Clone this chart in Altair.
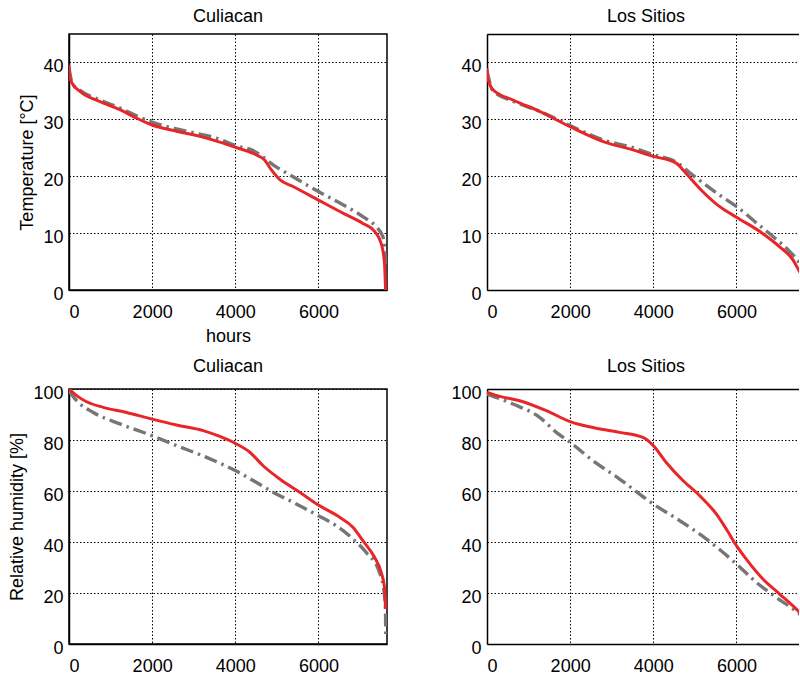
import altair as alt
import pandas as pd

FONT = "Liberation Sans"
RED = "#e8262a"
GRAY = "#767676"

# ---------------- data ----------------
hours_ticks = [0, 2000, 4000, 6000]
temp_ticks = [0, 10, 20, 30, 40]
rh_ticks = [0, 20, 40, 60, 80, 100]

# Culiacan temperature
cul_t_red_h = [0, 20, 80, 265, 745, 1225, 1626, 2000, 2587, 3148, 3628, 4000, 4430, 4710, 4870, 5070, 5390, 6000, 6590, 7070, 7350, 7510, 7590, 7615]
cul_t_red_v = [39.6, 37.5, 36.3, 34.9, 33.1, 31.7, 30.2, 29.0, 27.9, 27.0, 26.0, 25.1, 24.0, 22.8, 21.1, 19.4, 18.2, 15.8, 13.5, 11.7, 10.3, 8.2, 4.7, 0.0]
cul_t_gray_h = [0, 80, 265, 745, 1225, 1626, 2000, 2587, 3148, 3628, 4000, 4430, 4590, 4910, 5390, 6000, 6590, 7070, 7390, 7550, 7600, 7615]
cul_t_gray_v = [39.0, 36.3, 35.1, 33.4, 32.0, 30.6, 29.5, 28.3, 27.4, 26.5, 25.4, 24.5, 23.8, 22.0, 19.9, 17.3, 15.0, 12.9, 11.1, 9.4, 6.5, 4.0]

# Los Sitios temperature
los_t_red_h = [0, 10, 24, 144, 625, 1266, 2000, 2867, 3430, 4000, 4550, 4790, 5110, 5590, 6000, 6640, 7040, 7360, 7520, 7650]
los_t_red_v = [39.0, 37.8, 37.2, 35.2, 33.4, 31.4, 28.7, 25.9, 24.8, 23.5, 22.3, 20.5, 17.9, 14.7, 12.8, 9.9, 7.6, 5.3, 3.2, 1.5]
los_t_gray_h = [0, 144, 625, 1266, 2000, 2867, 3430, 4000, 4550, 4950, 5590, 6000, 6480, 6880, 7290, 7520, 7650]
los_t_gray_v = [38.5, 35.0, 33.2, 31.4, 28.9, 26.2, 25.2, 23.8, 22.5, 20.2, 16.7, 14.7, 11.8, 9.4, 6.7, 4.7, 3.0]

# Culiacan relative humidity
cul_rh_red_h = [0, 184, 424, 825, 1385, 2000, 2587, 3228, 3628, 4000, 4350, 4670, 5070, 5550, 6000, 6510, 6830, 7070, 7350, 7510, 7590, 7615]
cul_rh_red_v = [100.0, 97.4, 95.0, 92.8, 90.8, 88.2, 85.9, 83.7, 81.4, 78.7, 75.2, 69.9, 64.7, 59.5, 54.5, 49.7, 45.8, 40.5, 34.0, 28.1, 22.2, 13.7]
cul_rh_gray_h = [0, 184, 585, 1225, 2000, 2587, 3308, 4000, 4430, 4910, 5390, 6000, 6430, 6830, 7150, 7470, 7590, 7615, 7620]
cul_rh_gray_v = [99.3, 95.4, 90.8, 86.3, 81.7, 77.8, 73.2, 68.0, 64.1, 59.5, 55.6, 50.3, 46.4, 41.2, 35.9, 28.1, 19.0, 12.4, 2.6]

# Los Sitios relative humidity
los_rh_red_h = [0, 305, 786, 1427, 2000, 2629, 3190, 3751, 4000, 4313, 4713, 5114, 5515, 5756, 6000, 6237, 6637, 7038, 7439, 7519, 7650]
los_rh_red_v = [98.7, 97.1, 95.4, 91.5, 87.2, 84.6, 83.0, 81.0, 77.8, 71.2, 64.1, 58.2, 51.0, 45.1, 38.6, 33.3, 25.5, 19.6, 13.7, 12.4, 10.5]
los_rh_gray_h = [0, 625, 1266, 1667, 2000, 2549, 3190, 4000, 4633, 5274, 6000, 6477, 6958, 7519, 7650]
los_rh_gray_v = [98.0, 94.1, 88.9, 83.0, 79.1, 71.9, 64.7, 54.9, 48.4, 41.2, 31.4, 24.2, 18.3, 11.8, 10.0]

XMAX = 7650          # full hour range of each panel
PANEL_W = 318
CROP_W = 312         # right-hand panels are cut by the picture edge
XMAX_CROP = XMAX * CROP_W / PANEL_W


def panel(title, hr, vr, hg, vg, ymax, yticks, height, ytitle=None, xtitle=None, cropped=False):
    df_r = pd.DataFrame({"h": hr, "v": vr, "i": list(range(len(hr)))})
    df_g = pd.DataFrame({"h": hg, "v": vg, "i": list(range(len(hg)))})
    xaxis_kw = dict(values=hours_ticks, labelPadding=13, format="d")
    if xtitle:
        xaxis_kw["title"] = xtitle
        xaxis_kw["titlePadding"] = 6
    else:
        xaxis_kw["title"] = ""
    yaxis_kw = dict(values=yticks, labelOffset=4, format="d")
    if ytitle:
        yaxis_kw["title"] = ytitle
        yaxis_kw["titlePadding"] = 6
    else:
        yaxis_kw["title"] = ""
    xmax = XMAX_CROP if cropped else XMAX
    x = alt.X("h:Q", scale=alt.Scale(domain=[0, xmax], nice=False, zero=False),
              axis=alt.Axis(**xaxis_kw))
    y = alt.Y("v:Q", scale=alt.Scale(domain=[0, ymax], nice=False),
              axis=alt.Axis(**yaxis_kw))
    gray = alt.Chart(df_g).mark_line(color=GRAY, strokeWidth=3.4, strokeDash=[13, 5, 2.5, 5],
                                     interpolate="monotone", clip=True).encode(x=x, y=y, order="i:Q")
    if cropped:
        xr = alt.X("h:Q", axis=alt.Axis(orient="top", labels=False, grid=False, ticks=False,
                                        title="", domain=True))
    else:
        xr = alt.X("h:Q")
    red = alt.Chart(df_r).mark_line(color=RED, strokeWidth=3, interpolate="monotone",
                                    clip=True).encode(x=xr, y=alt.Y("v:Q"), order="i:Q")
    props = dict(width=CROP_W if cropped else PANEL_W, height=height,
                 title=alt.TitleParams(title, anchor="middle", offset=8))
    layer = alt.layer(gray, red)
    if cropped:
        layer = layer.resolve_axis(x="independent")
        props["view"] = alt.ViewBackground(strokeOpacity=0)
        # keep title centred over the full (uncut) panel
        props["title"] = alt.TitleParams(title, anchor="middle", offset=8,
                                         dx=(PANEL_W - CROP_W) / 2)
    return layer.properties(**props)


tl = panel("Culiacan", cul_t_red_h, cul_t_red_v, cul_t_gray_h, cul_t_gray_v, 45, temp_ticks, 256,
           ytitle="Temperature [°C]", xtitle="hours")
tr = panel("Los Sitios", los_t_red_h, los_t_red_v, los_t_gray_h, los_t_gray_v, 45, temp_ticks, 256,
           cropped=True)
bl = panel("Culiacan", cul_rh_red_h, cul_rh_red_v, cul_rh_gray_h, cul_rh_gray_v, 100, rh_ticks, 255,
           ytitle="Relative humidity [%]")
br = panel("Los Sitios", los_rh_red_h, los_rh_red_v, los_rh_gray_h, los_rh_gray_v, 100, rh_ticks, 255,
           cropped=True)

chart = alt.concat(tl, tr, bl, br, columns=2, spacing={"row": 99, "column": 100},
                   bounds="flush").properties(
    padding={"left": 8, "top": 7, "right": 0, "bottom": 0},
    background="white",
).configure_axis(
    grid=True, gridColor="black", gridDash=[1.5, 2], gridWidth=1, gridOpacity=1,
    domainColor="black", domainWidth=1.5, ticks=False,
    labelFont=FONT, labelFontSize=18, labelColor="black",
    titleFont=FONT, titleFontSize=18, titleFontWeight="normal", titleColor="black",
).configure_axisY(labelPadding=6).configure_view(
    stroke="black", strokeWidth=1.5
).configure_title(
    font=FONT, fontSize=18, fontWeight="normal", color="black"
)

chart.save("out.html", embed_options={"renderer": "svg", "actions": False})
